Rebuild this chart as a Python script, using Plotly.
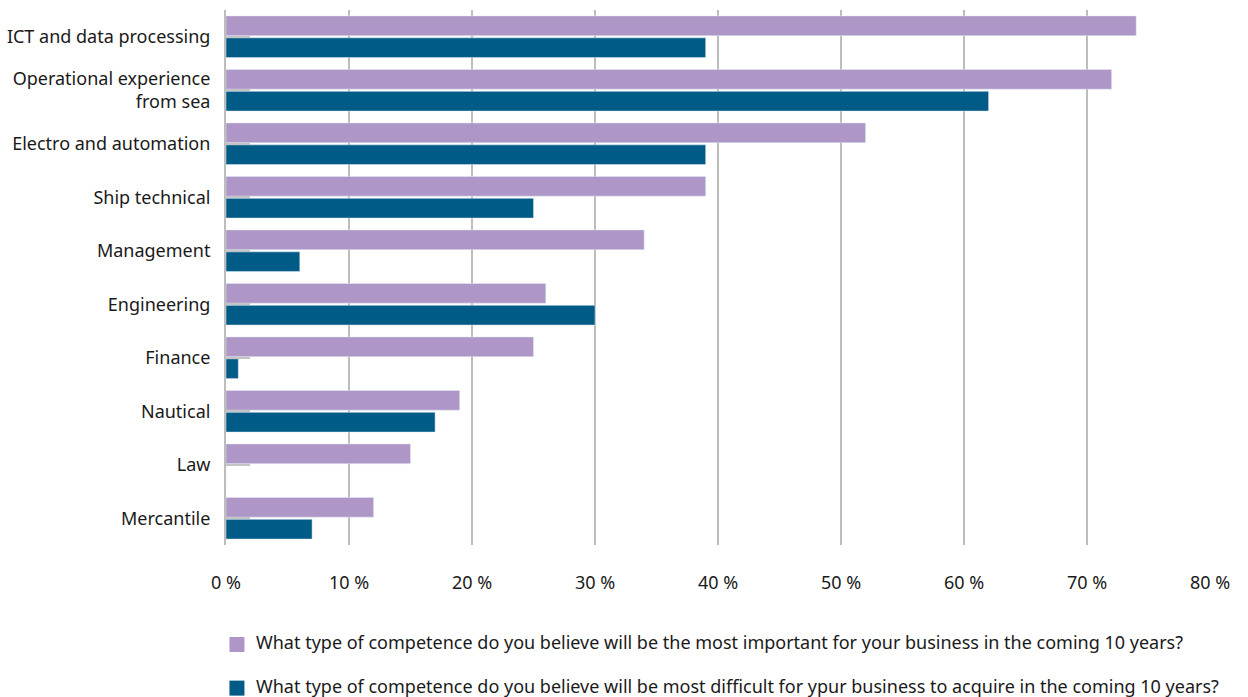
import plotly.graph_objects as go

categories = [
    "ICT and data processing",
    "Operational experience<br>from sea",
    "Electro and automation",
    "Ship technical",
    "Management",
    "Engineering",
    "Finance",
    "Nautical",
    "Law",
    "Mercantile",
]

most_important = [74, 72, 52, 39, 34, 26, 25, 19, 15, 12]
most_difficult = [39, 62, 39, 25, 6, 30, 1, 17, 0, 7]

series_names = [
    "What type of competence do you believe will be the most important for your business in the coming 10 years?",
    "What type of competence do you believe will be most difficult for ypur business to acquire in the coming 10 years?",
]

x_ticks = [0, 10, 20, 30, 40, 50, 60, 70, 80]
x_tick_labels = [f"{v} %" for v in x_ticks]

PURPLE = "#AE97C7"
BLUE = "#015B87"
COLORS = [PURPLE, BLUE]
FONT = "Noto Sans, Open Sans, sans-serif"

fig = go.Figure()
for values, name, color in zip([most_important, most_difficult], series_names, COLORS):
    fig.add_trace(go.Bar(
        y=categories, x=values, orientation="h",
        name=name, marker_color=color,
    ))

# Legend below the plot: a colour key square and a caption per series
key_rows = [-0.186, -0.2675]   # paper y of each key square centre
text_rows = [-0.1822, -0.2632]  # paper y of each caption centre
key_size_x = 15 / 984
key_size_y = 15 / 535
shapes = []
annotations = []
for key_y, text_y, name, color in zip(key_rows, text_rows, series_names, COLORS):
    shapes.append(dict(
        type="rect", xref="paper", yref="paper",
        x0=0.0035, x1=0.0035 + key_size_x,
        y0=key_y - key_size_y / 2, y1=key_y + key_size_y / 2,
        fillcolor=color, line=dict(width=0),
    ))
    annotations.append(dict(
        xref="paper", yref="paper", x=0.0285, y=text_y,
        xanchor="left", yanchor="middle", showarrow=False,
        text=name, font=dict(size=18, color="#1a1a1a"),
    ))

fig.update_layout(
    width=1248, height=697,
    margin=dict(l=226, r=38, t=10, b=152),
    paper_bgcolor="white", plot_bgcolor="white",
    barmode="group", bargap=0.18, bargroupgap=0.1,
    font=dict(family=FONT, size=18, color="#1a1a1a"),
    showlegend=False,
    shapes=shapes,
    annotations=annotations,
)

fig.update_xaxes(
    range=[0, 80], tickvals=x_ticks, ticktext=x_tick_labels,
    showgrid=True, gridcolor="#bdbdbd", gridwidth=1.5,
    zeroline=False, showline=False, ticks="",
    ticklabelstandoff=25, automargin=False,
)
fig.update_yaxes(
    autorange="reversed",
    showline=True, linecolor="#bdbdbd", linewidth=2,
    ticks="inside", ticklen=24, tickcolor="#c4c4c4", tickwidth=2,
    showgrid=False, ticklabelstandoff=10, automargin=False,
)

fig.write_html("out.html")
